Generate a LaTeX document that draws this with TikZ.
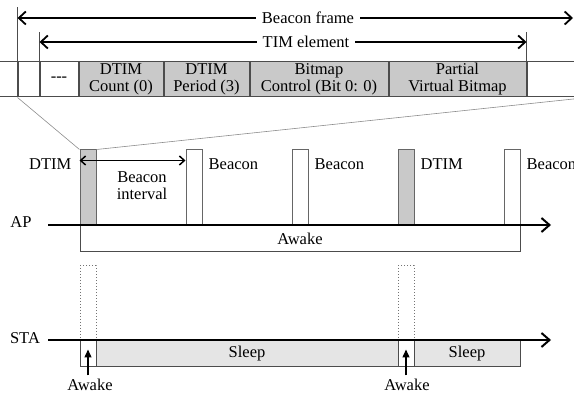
\documentclass[tikz,border=0pt]{standalone}
\usepackage{fontspec}
\setmainfont{Liberation Serif}
\usetikzlibrary{arrows.meta,positioning}
\definecolor{fieldgray}{gray}{0.79}
\definecolor{sleepgray}{gray}{0.9}

\begin{document}
\begin{tikzpicture}[
	x=1pt, y=-1pt,
	font=\fontsize{16.5}{17}\selectfont,
	>={Straight Barb[length=7pt,width=13pt]},
	cell/.style={rectangle, draw=black!70, line width=1pt, minimum height=35pt, inner sep=0pt, align=center},
	slot/.style={rectangle, draw=black!60, line width=1pt, minimum width=16pt, minimum height=75pt, inner sep=0pt},
	slotd/.style={slot, fill=fieldgray},
	ghost/.style={slot, draw=black!55, dotted, minimum height=74pt},
	band/.style={rectangle, draw=black!70, line width=1pt, minimum height=27pt, inner sep=0pt},
	tick/.style={draw=black!70, line width=1pt},
	tag/.style={inner sep=6pt},
	lbl/.style={inner sep=2pt},
	arr/.style={->, line width=1.8pt},
	dbl/.style={{Straight Barb[length=5pt,width=9pt]}-{Straight Barb[length=5pt,width=9pt]}, line width=1.5pt},
	axis/.style={-{Straight Barb[length=8pt,width=14pt]}, line width=2pt},
	up/.style={-{Triangle[length=8pt,width=7pt]}, line width=1.3pt},
	zl/.style={draw=black!45, line width=0.6pt},
]
\useasboundingbox (0,0) rectangle (574,393);
% Beacon frame fields
\node[cell, minimum width=20pt] (c0) at (7,79.5) {};
\node[cell, minimum width=21pt, right=0pt of c0] (c1) {};
\node[cell, minimum width=38pt, right=0pt of c1] (c2) {-{}-{}-};
\node[cell, fill=fieldgray, minimum width=84pt, right=0pt of c2] (c3) {DTIM\\Count (0)};
\node[cell, fill=fieldgray, minimum width=85pt, right=0pt of c3] (c4) {DTIM\\Period (3)};
\node[cell, fill=fieldgray, minimum width=138pt, right=0pt of c4] (c5) {Bitmap\\Control (Bit 0: 0)};
\node[cell, fill=fieldgray, minimum width=137pt, right=0pt of c5] (c6) {Partial\\Virtual Bitmap};
\node[cell, minimum width=60pt, right=0pt of c6] (c7) {};
\draw[tick] (c1.north west) -- ++(0,-54);
\draw[tick] (c2.north west) -- ++(0,-29);
\draw[tick] (c7.north west) -- ++(0,-29);
% Spans
\node[tag] (bf) at (308,18) {Beacon frame};
\coordinate (bfr) at (573,18);
\draw[arr] (bf.west) -- (bf -| c1.north west);
\draw[arr] (bf.east) -- (bfr);
\node[tag] (tim) at (306,42) {TIM element};
\draw[arr] (tim.west) -- (tim -| c2.north west);
\draw[arr] (tim.east) -- (tim -| c7.north west);
% AP beacons
\foreach \n/\x/\s in {1/88/slotd,2/194/slot,3/300/slot,4/406/slotd,5/512/slot}
	\node[\s] (b\n) at (\x,187.5) {};
\node[lbl, anchor=east] (l1) at ([xshift=-6pt,yshift=-15pt]b1.north west) {DTIM};
\foreach \n/\t in {2/Beacon,3/Beacon,4/DTIM,5/Beacon}
	\node[lbl, anchor=west] (l\n) at ([xshift=4pt,yshift=-15pt]b\n.north east) {\t};
\draw[dbl] ([yshift=-11pt]b1.north west) -- ([yshift=-11pt]b2.north west);
\node[align=center] (bi) at (142,186) {Beacon\\interval};
\draw[zl] (c1.south west) -- (b1.north west);
\draw[zl] (c7.south east) -- (b1.north east);
\node[band, minimum width=440pt] (awk) at (300,238.5) {Awake};
\node (ap) at (21,222) {AP};
\coordinate (aps) at (48,225);
\coordinate (ape) at (551,225);
\draw[axis] (aps) -- (ape);
% STA
\node[ghost] (g1) at (88,303) {};
\node[ghost] (g2) at (406,303) {};
\node[band, minimum width=16pt] (w1) at (88,353.5) {};
\node[band, fill=sleepgray, minimum width=302pt] (s1) at (247,353.5) {Sleep};
\node[band, minimum width=16pt] (w2) at (406,353.5) {};
\node[band, fill=sleepgray, minimum width=106pt] (s2) at (467,353.5) {Sleep};
\node (sta) at (25,338) {STA};
\coordinate (sts) at (48,340);
\coordinate (ste) at (551,340);
\draw[axis] (sts) -- (ste);
\node[inner sep=1pt] (a1) at (90,384.5) {Awake};
\node[inner sep=1pt] (a2) at (407,384.5) {Awake};
\draw[up] ([yshift=2pt]w1 |- a1.north) -- ([yshift=4pt]w1.center);
\draw[up] ([yshift=2pt]w2 |- a2.north) -- ([yshift=4pt]w2.center);
\end{tikzpicture}
\end{document}
